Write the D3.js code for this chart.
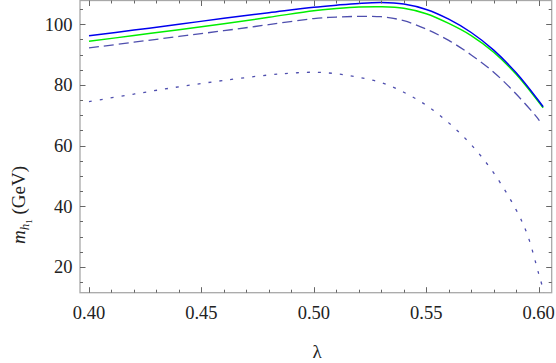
<!DOCTYPE html>
<html><head><meta charset="utf-8">
<script src="https://cdn.jsdelivr.net/npm/d3@7"></script>
<style>body{margin:0;background:#fff}svg{display:block}
.lbl{font-family:"Liberation Serif","Tinos","Noto Serif","DejaVu Serif","FreeSerif","Times New Roman",Times,serif;}</style>
</head><body>
<script>
const lambda = [0.40,0.42,0.44,0.46,0.48,0.50,0.51,0.52,0.53,0.54,0.55,0.56,0.57,0.58,0.59,0.60,0.602];
const blueSolid = [96.2,98.1,100.0,102.0,103.8,105.6,106.3,106.9,107.2,106.7,104.9,101.7,97.3,91.5,84.0,74.8,72.8];
const greenSolid = [94.4,96.3,98.2,100.2,102.3,104.5,105.2,105.7,105.8,105.3,103.5,100.3,96.3,90.8,83.5,74.4,72.5];
const lambdaDashed = [0.40,0.42,0.44,0.46,0.48,0.50,0.51,0.52,0.53,0.54,0.55,0.56,0.57,0.58,0.59,0.60,0.6003];
const dashedVals = [92.2,94.1,96.0,97.9,99.9,101.9,102.4,102.6,102.5,101.2,98.4,94.7,89.9,84.2,77.0,68.6,68.2];
const lambdaDotted = [0.40,0.42,0.44,0.46,0.48,0.49,0.50,0.51,0.52,0.53,0.54,0.55,0.56,0.57,0.58,0.59,0.595,0.60,0.602,0.6025];
const dottedVals = [74.5,77.0,79.4,81.5,83.3,83.9,84.2,83.7,82.5,80.8,77.6,73.3,67.5,60.3,51.0,38.8,30.6,17.8,12.5,10.5];
const xMajorTicks = [0.40,0.45,0.50,0.55,0.60];
const xTickLabels = ["0.40","0.45","0.50","0.55","0.60"];
const yMajorTicks = [20,40,60,80,100];
const yTickLabels = ["20","40","60","80","100"];

const W = 556, H = 363;
const L = 80, R = 551.7, T = 0.5, B = 292.7;
const x = d3.scaleLinear().domain([0.396, 0.6058]).range([L, R]);
const y = d3.scaleLinear().domain([11.5, 107.85]).range([B, T]);

const svg = d3.select("body").append("svg").attr("width", W).attr("height", H);
svg.append("defs").append("clipPath").attr("id","clip")
  .append("rect").attr("x",L).attr("y",T).attr("width",R-L).attr("height",B-T);

const line = d3.line().x(d=>x(d[0])).y(d=>y(d[1])).curve(d3.curveCatmullRom.alpha(0.5));
const g = svg.append("g").attr("clip-path","url(#clip)");
const series = [
  {xs: lambdaDotted, ys: dottedVals, color:"#4f4fae", dash:"3,8", w:1.3},
  {xs: lambdaDashed, ys: dashedVals, color:"#4f4fae", dash:"10,5", w:1.3},
  {xs: lambda, ys: greenSolid, color:"#00ee00", dash:null, w:1.5},
  {xs: lambda, ys: blueSolid, color:"#0000ee", dash:null, w:1.5}
];
series.forEach(s=>{
  g.append("path").datum(s.xs.map((v,i)=>[v,s.ys[i]]))
    .attr("d", line).attr("fill","none").attr("stroke", s.color)
    .attr("stroke-width", s.w).attr("stroke-dasharray", s.dash);
});

// frame
svg.append("rect").attr("x",L).attr("y",T).attr("width",R-L).attr("height",B-T)
  .attr("fill","none").attr("stroke","#a8a8a8").attr("stroke-width",1.3);

const tickColor = "#666";
const xMinor = d3.range(40, 61).map(v=>v/100);
const yMinor = d3.range(15, 106, 5);
const tk = svg.append("g").attr("stroke", tickColor).attr("stroke-width",1);
xMinor.forEach(v=>{
  const major = xMajorTicks.some(m=>Math.abs(m-v)<1e-9);
  const len = major ? 5.5 : 3;
  const px = Math.round(x(v))+0.5;
  tk.append("line").attr("x1",px).attr("x2",px).attr("y1",B).attr("y2",B-len);
  tk.append("line").attr("x1",px).attr("x2",px).attr("y1",T).attr("y2",T+len);
});
yMinor.forEach(v=>{
  const major = yMajorTicks.includes(v);
  const len = major ? 5.5 : 3;
  const py = Math.round(y(v))+0.5;
  tk.append("line").attr("x1",L).attr("x2",L+len).attr("y1",py).attr("y2",py);
  tk.append("line").attr("x1",R).attr("x2",R-len).attr("y1",py).attr("y2",py);
});

svg.append("g").selectAll("text").data(xMajorTicks).join("text").attr("class","lbl")
  .attr("x", d=>x(d)).attr("y", 319).attr("text-anchor","middle")
  .attr("font-size", 18.5).attr("fill","#222")
  .text((d,i)=>xTickLabels[i]);
svg.append("g").selectAll("text").data(yMajorTicks).join("text").attr("class","lbl")
  .attr("x", 72.5).attr("y", d=>y(d)+6.3).attr("text-anchor","end")
  .attr("font-size", 18.5).attr("fill","#222")
  .text((d,i)=>yTickLabels[i]);

svg.append("text").attr("class","lbl").attr("x", 317).attr("y", 358).attr("text-anchor","middle")
  .attr("font-size", 19).attr("fill","#222").text("λ");

const yl = svg.append("text").attr("class","lbl").attr("transform","translate(25,205) rotate(-90)")
  .attr("text-anchor","middle").attr("font-size", 19).attr("fill","#222");
yl.append("tspan").attr("font-style","italic").text("m");
yl.append("tspan").attr("font-style","italic").attr("font-size",13).attr("dy",4).text("h");
yl.append("tspan").attr("font-size",9).attr("dy",2.5).text("1");
yl.append("tspan").attr("dy",-6.5).text(" (GeV)");
</script>
</body></html>
